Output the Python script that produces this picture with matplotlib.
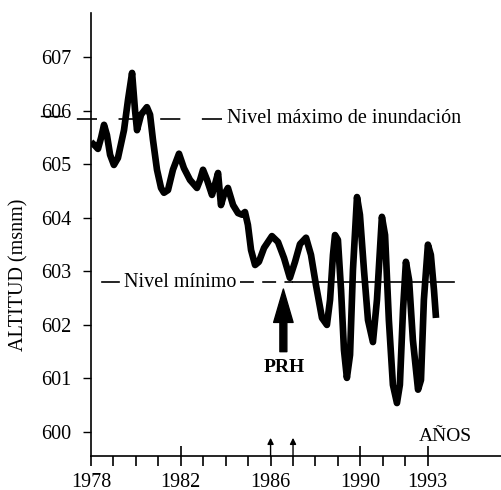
import matplotlib
matplotlib.use("Agg")
import matplotlib.pyplot as plt
from matplotlib.ticker import FixedLocator, FixedFormatter

plt.rcParams['font.family'] = ['Liberation Serif', 'DejaVu Serif']
plt.rcParams['lines.scale_dashes'] = False

# ---- data ----
years = [1978.00, 1978.18, 1978.31, 1978.45, 1978.58, 1978.71, 1978.85, 1979.02, 1979.20,
         1979.47, 1979.65, 1979.83, 1979.96, 1980.05, 1980.23, 1980.49, 1980.63, 1980.76,
         1980.94, 1981.12, 1981.25, 1981.43, 1981.65, 1981.92, 1982.14, 1982.41, 1982.72,
         1982.86, 1982.99, 1983.17, 1983.39, 1983.52, 1983.66, 1983.79, 1983.92, 1984.10,
         1984.33, 1984.55, 1984.73, 1984.86, 1984.99, 1985.13, 1985.31, 1985.48, 1985.71,
         1986.06, 1986.33, 1986.60, 1986.86, 1987.09, 1987.31, 1987.58, 1987.80, 1988.02,
         1988.29, 1988.51, 1988.65, 1988.78, 1988.87, 1989.00, 1989.14, 1989.27, 1989.40,
         1989.54, 1989.67, 1989.85, 1989.98, 1990.16, 1990.34, 1990.56, 1990.74, 1990.96,
         1991.10, 1991.27, 1991.45, 1991.63, 1991.76, 1991.90, 1992.03, 1992.17, 1992.34,
         1992.57, 1992.70, 1992.83, 1993.01, 1993.14, 1993.28, 1993.37]
altitud = [605.42, 605.35, 605.29, 605.50, 605.74, 605.55, 605.18, 604.99, 605.12,
           605.64, 606.21, 606.71, 606.02, 605.64, 605.93, 606.07, 605.93, 605.46,
           604.90, 604.56, 604.47, 604.52, 604.90, 605.20, 604.93, 604.71, 604.56,
           604.71, 604.90, 604.71, 604.43, 604.62, 604.84, 604.24, 604.43, 604.56,
           604.24, 604.09, 604.06, 604.11, 603.87, 603.40, 603.12, 603.18, 603.44,
           603.66, 603.55, 603.25, 602.88, 603.18, 603.51, 603.63, 603.31, 602.75,
           602.13, 602.00, 602.47, 603.31, 603.68, 603.59, 602.65, 601.53, 601.01,
           601.44, 603.03, 604.39, 604.06, 603.03, 602.09, 601.68, 602.47, 604.02,
           603.68, 602.09, 600.88, 600.54, 600.88, 602.28, 603.18, 602.84, 601.72,
           600.79, 600.97, 602.47, 603.50, 603.31, 602.65, 602.13]

nivel_maximo = 605.85
nivel_minimo = 602.80
ytick_vals = [600, 601, 602, 603, 604, 605, 606, 607]
ytick_labels = ['600', '601', '602', '603', '604', '605', '606', '607']
xtick_major = [1982, 1990, 1993]
xtick_minor = [1978, 1979, 1980, 1981, 1983, 1984, 1985, 1986, 1987, 1988, 1989, 1991, 1992]
xlabel_minor = {1978: '1978', 1986: '1986'}
prh_year = 1986.57
small_arrow_years = [1986, 1987]

FS = 14.5

fig = plt.figure(figsize=(5.02, 4.90), dpi=100)
ax = fig.add_axes([91/502, 34/490, 411/502, 443/490])
ax.set_xlim(1978, 1996.31)
ax.set_ylim(599.55, 607.83)

ax.plot(years, altitud, color='black', lw=4.8, solid_joinstyle='round',
        solid_capstyle='butt', zorder=3)

# Nivel máximo
lmax, = ax.plot([1983.84, 1977.15], [nivel_maximo, nivel_maximo], color='black',
                lw=1.2, clip_on=False, zorder=2)
lmax.set_dashes([14.5, 15.5])
ax.text(1984.06, nivel_maximo, 'Nivel máximo de inundación', fontsize=FS,
        va='center', ha='left')

# underline below the "606" tick label
ax.plot([-0.121, -0.0706], [605.90, 605.90], color='black', lw=1,
        transform=ax.get_yaxis_transform(), clip_on=False)

# Nivel mínimo
ax.plot([1978.49, 1979.25], [nivel_minimo, nivel_minimo], color='black', lw=1.2, zorder=2)
ax.text(1979.47, nivel_minimo, 'Nivel mínimo', fontsize=FS, va='center', ha='left')
lmin, = ax.plot([1984.64, 1987.0], [nivel_minimo, nivel_minimo], color='black', lw=1.2, zorder=2)
lmin.set_dashes([10, 6])
ax.plot([1987.0, 1994.17], [nivel_minimo, nivel_minimo], color='black', lw=1.2, zorder=2)

# PRH arrow
ax.annotate('', xy=(prh_year, 602.67), xytext=(prh_year, 601.50),
            arrowprops=dict(facecolor='black', edgecolor='black', width=5,
                            headwidth=14, headlength=24, shrink=0))
ax.text(prh_year + 0.05, 601.21, 'PRH', fontsize=14, fontweight='bold',
        ha='center', va='center')

for yr in small_arrow_years:
    ax.annotate('', xy=(yr, 599.89), xytext=(yr, 599.55),
                arrowprops=dict(arrowstyle='-|>', color='black', lw=1,
                                mutation_scale=9, shrinkA=0, shrinkB=0))

ax.text(1993.77, 599.91, 'AÑOS', fontsize=14, ha='center', va='center')

# axes styling
for s in ['top', 'right']:
    ax.spines[s].set_visible(False)
for s in ['left', 'bottom']:
    ax.spines[s].set_linewidth(1.2)

ax.yaxis.set_major_locator(FixedLocator(ytick_vals))
ax.yaxis.set_major_formatter(FixedFormatter(ytick_labels))
ax.tick_params(axis='y', direction='out', length=6, width=1, pad=8, labelsize=FS)

ax.xaxis.set_major_locator(FixedLocator(xtick_major))
ax.xaxis.set_major_formatter(FixedFormatter([str(v) for v in xtick_major]))
ax.xaxis.set_minor_locator(FixedLocator(xtick_minor))
ax.xaxis.set_minor_formatter(FixedFormatter([xlabel_minor.get(v, '') for v in xtick_minor]))
ax.tick_params(axis='x', which='major', direction='inout', length=15, width=1.2,
               pad=5, labelsize=FS)
ax.tick_params(axis='x', which='minor', direction='out', length=7.5, width=1.2,
               pad=5, labelsize=FS)

ax.set_ylabel('ALTITUD (msnm)', fontsize=FS)
ax.yaxis.set_label_coords(-0.153, 0.409)

fig.savefig('out.png', dpi=100)
